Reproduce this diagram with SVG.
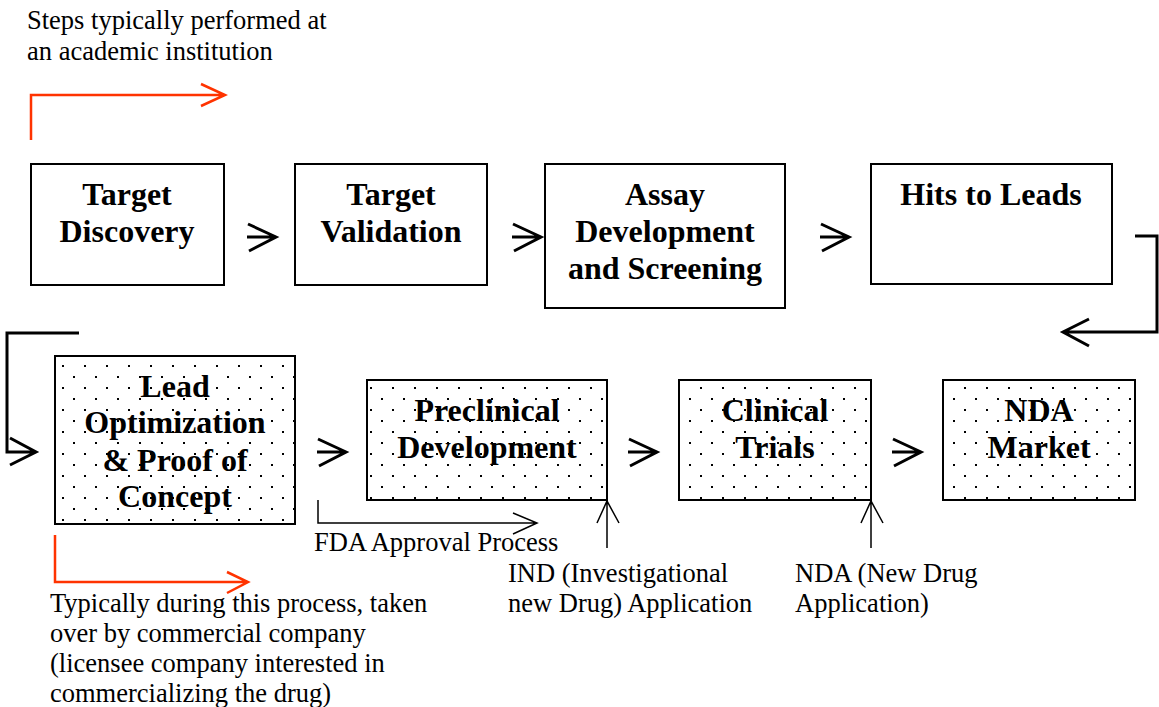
<svg xmlns="http://www.w3.org/2000/svg" width="1159" height="707" viewBox="0 0 1159 707">
<style>
.box{fill:#fff;stroke:#000;stroke-width:2}
.dot{fill:url(#dots);stroke:#000;stroke-width:2}
.bt{font-family:"Liberation Serif","Times New Roman",serif;font-weight:bold;font-size:32px;fill:#000;text-anchor:middle}
.rt{font-family:"Liberation Serif","Times New Roman",serif;font-size:26.5px;fill:#000}
.arr{fill:none;stroke:#000;stroke-width:3;stroke-linejoin:miter}
.thin{fill:none;stroke:#000;stroke-width:1.5}
.red{fill:none;stroke:#ff3300;stroke-width:2.5}
</style>
<defs>
<pattern id="dots" width="22" height="22" patternUnits="userSpaceOnUse">
<rect width="22" height="22" fill="#fff"/>
<rect x="7" y="2" width="2" height="2" fill="#000"/>
<rect x="18" y="13" width="2" height="2" fill="#000"/>
</pattern>
</defs>
<rect width="1159" height="707" fill="#fff"/>
<g id="note-academic">
<text class="rt" x="27" y="29">Steps typically performed at</text>
<text class="rt" x="27" y="60">an academic institution</text>
</g>
<g id="note-commercial">
<text class="rt" x="50" y="612">Typically during this process, taken</text>
<text class="rt" x="50" y="642">over by commercial company</text>
<text class="rt" x="50" y="672">(licensee company interested in</text>
<text class="rt" x="50" y="702">commercializing the drug)</text>
</g>
<g id="node-target-discovery">
<rect class="box" x="31" y="164" width="193" height="121"/>
<text class="bt" x="127" y="205">Target</text>
<text class="bt" x="127" y="242">Discovery</text>
</g>
<g id="node-target-validation">
<rect class="box" x="295" y="164" width="192" height="121"/>
<text class="bt" x="391" y="205">Target</text>
<text class="bt" x="391" y="242">Validation</text>
</g>
<g id="node-assay">
<rect class="box" x="545" y="164" width="240" height="144"/>
<text class="bt" x="665" y="205">Assay</text>
<text class="bt" x="665" y="242">Development</text>
<text class="bt" x="665" y="279">and Screening</text>
</g>
<g id="node-hits">
<rect class="box" x="871" y="164" width="241" height="120"/>
<text class="bt" x="991" y="205">Hits to Leads</text>
</g>
<g id="node-lead-opt">
<rect class="dot" x="55" y="356" width="240" height="168"/>
<text class="bt" x="175" y="397">Lead</text>
<text class="bt" x="175" y="433">Optimization</text>
<text class="bt" x="175" y="471">&amp; Proof of</text>
<text class="bt" x="175" y="507">Concept</text>
</g>
<g id="node-preclinical">
<rect class="dot" x="367" y="380" width="240" height="120"/>
<text class="bt" x="487" y="421">Preclinical</text>
<text class="bt" x="487" y="458">Development</text>
</g>
<g id="node-clinical">
<rect class="dot" x="679" y="380" width="192" height="120"/>
<text class="bt" x="775" y="421">Clinical</text>
<text class="bt" x="775" y="458">Trials</text>
</g>
<g id="node-nda-market">
<rect class="dot" x="943" y="380" width="192" height="120"/>
<text class="bt" x="1039" y="421">NDA</text>
<text class="bt" x="1039" y="458">Market</text>
</g>
<g id="labels">
<text class="rt" x="314" y="551">FDA Approval Process</text>
<text class="rt" x="508" y="582">IND (Investigational</text>
<text class="rt" x="508" y="612">new Drug) Application</text>
<text class="rt" x="795" y="582">NDA (New Drug</text>
<text class="rt" x="795" y="612">Application)</text>
</g>
<g id="connectors">
<path class="arr" d="M247 237H276M248 224L276 237L249 251"/>
<path class="arr" d="M512 237H541M513 224L541 237L514 251"/>
<path class="arr" d="M820 237H849M821 224L849 237L822 251"/>
<path class="arr" d="M1135 236H1157V332H1063M1089 319L1063 332L1089 346"/>
<path class="arr" d="M79 333H7V452H36M10 438L36 452L10 465"/>
<path class="arr" d="M317 452H346M318 439L346 452L319 466"/>
<path class="arr" d="M628 452H657M629 439L657 452L630 466"/>
<path class="arr" d="M892 452H921M893 439L921 452L894 466"/>
<path class="thin" d="M318 500V523H537M513 513L537 523L513 534"/>
<path class="thin" d="M607 548V501M597 523L607 501L619 523"/>
<path class="thin" d="M871 548V501M861 523L871 501L883 523"/>
<path class="red" d="M31 140V95H225M201 84L225 95L201 106"/>
<path class="red" d="M55 535V582H248M227 572L248 582L227 593"/>
</g>
</svg>
